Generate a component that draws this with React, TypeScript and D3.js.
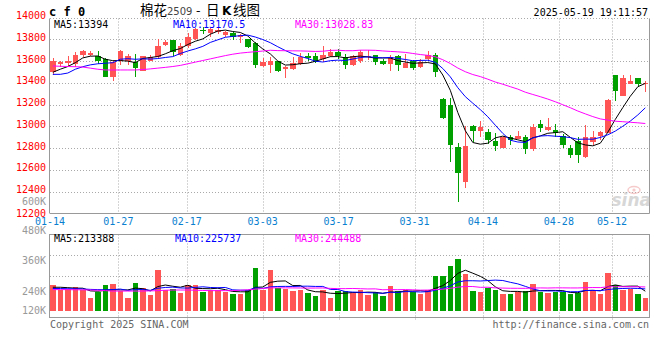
import React from 'react';
import * as d3 from 'd3';

// ---------- data ----------
const dates = [
  '01-14','01-15','01-16','01-17','01-20','01-21','01-22','01-23','01-24','01-27',
  '02-05','02-06','02-07','02-10','02-11','02-12','02-13','02-14','02-17',
  '02-18','02-19','02-20','02-21','02-24','02-25','02-26','02-27','02-28','03-03',
  '03-04','03-05','03-06','03-07','03-10','03-11','03-12','03-13','03-14','03-17',
  '03-18','03-19','03-20','03-21','03-24','03-25','03-26','03-27','03-28','03-31',
  '04-01','04-02','04-03','04-07','04-08','04-09','04-10','04-11','04-14',
  '04-15','04-16','04-17','04-18','04-21','04-22','04-23','04-24','04-25','04-28',
  '04-29','04-30','05-06','05-07','05-08','05-09','05-12',
  '05-13','05-14','05-15','05-16','05-19',
];

const opens = [
  13502,13575,13580,13575,13652,13660,13650,13620,13455,13600,
  13600,13595,13510,13605,13640,13750,13790,13655,13735,13805,
  13888,13855,13870,13840,13860,13825,13800,13763,13555,13565,
  13600,13524,13527,13570,13646,13646,13616,13646,13686,13640,
  13565,13603,13634,13656,13600,13573,13650,13540,13603,13543,
  13616,13655,13252,13197,12814,12492,13004,12960,12951,12866,
  12805,12906,12888,12906,12790,13022,12967,12967,12912,12799,
  12866,12716,12860,12912,12943,13472,13282,13389,13442,13390,
];
const highs = [
  13626,13598,13650,13685,13705,13690,13690,13630,13605,13700,
  13665,13665,13650,13660,13800,13790,13795,13770,13855,13900,
  13915,13905,13905,13880,13870,13850,13805,13778,13630,13640,
  13605,13555,13635,13672,13670,13670,13738,13710,13710,13665,
  13656,13700,13700,13660,13615,13656,13656,13665,13610,13620,
  13690,13678,13265,13265,12850,13004,13013,13050,12980,12943,
  12912,12921,12961,12921,13022,13059,13074,13022,12930,12830,
  12900,13013,12961,12961,13250,13475,13472,13474,13445,13420,
];
const lows = [
  13474,13545,13555,13550,13640,13645,13570,13450,13415,13560,
  13560,13455,13505,13600,13630,13735,13645,13645,13720,13795,
  13850,13825,13845,13820,13790,13765,13720,13533,13545,13493,
  13500,13447,13522,13565,13600,13580,13594,13640,13615,13530,
  13555,13585,13610,13560,13565,13510,13510,13538,13515,13535,
  13610,13456,13068,12676,12308,12437,12860,12905,12840,12777,
  12800,12830,12880,12747,12777,12952,12958,12900,12799,12707,
  12667,12710,12830,12876,12935,13236,13282,13385,13359,13319,
];
const closes = [
  13600,13590,13605,13660,13690,13678,13600,13455,13595,13695,
  13650,13535,13645,13638,13740,13775,13680,13740,13825,13890,
  13882,13895,13885,13870,13825,13838,13733,13564,13594,13600,
  13510,13548,13580,13640,13625,13595,13655,13686,13646,13565,
  13646,13686,13646,13594,13573,13640,13564,13585,13533,13594,
  13655,13502,13075,12830,12575,12820,12960,12998,12875,12820,
  12900,12876,12912,12790,12997,12988,12997,12943,12830,12738,
  12738,12900,12900,12952,13242,13328,13442,13420,13389,13396,
];
const volumes = [
  244000,218000,225000,233000,218000,181000,210000,244000,249000,213000,
  181000,254000,229000,197000,315000,218000,225000,206000,244000,244000,
  210000,221000,218000,210000,202000,202000,221000,323000,218000,312000,
  230000,226000,214000,221000,205000,189000,221000,183000,214000,214000,
  205000,218000,194000,210000,189000,237000,214000,221000,210000,199000,
  221000,284000,284000,331000,367000,296000,214000,210000,230000,221000,
  202000,199000,210000,214000,246000,210000,205000,210000,210000,202000,
  205000,255000,215000,200000,300000,245000,220000,222000,200000,180000,
];

// moving-average values before the window fills
const priceMa5Head = [13497,13525,13550,13585];
const priceMa10Head = [13478,13478,13490,13525,13548,13565,13575,13580,13585];
const priceMa30Head = [
  13555,13552,13550,13548,13545,13535,13525,13518,13518,13518,
  13518,13518,13522,13528,13535,13542,13550,13560,13575,13590,
  13605,13620,13635,13650,13663,13673,13680,13686,13692,
];
const volMa5Head = [232000,232000,230000,228000];
const volMa10Head = [226000,226000,225000,225000,224000,222000,221000,220000,221000];
const volMa30Head = [
  221000,221000,221000,220000,220000,219000,218000,216000,214000,214000,
  214000,214000,214000,215000,216000,218000,219000,219000,219000,218000,
  217000,216000,216000,216000,216000,218000,220000,223000,226000,
];

const tickDates = ['01-14','01-27','02-17','03-03','03-17','03-31','04-14','04-28','05-12'];
const priceTicks = [14000,13800,13600,13400,13200,13000,12800,12600,12400,12200];
const volTickLabels = ['480K','360K','240K','120K'];
const maNames = ['MA5','MA10','MA30'];
const priceMaLast = ['13394','13170.5','13028.83'];
const volMaLast = ['213388','225737','244488'];
const maColors = ['#000000','#0000ff','#ff00ff'];

const RED = '#ff5555';
const GREEN = '#00a000';
const MONO = '"DejaVu Sans Mono", "Liberation Mono", monospace';

function movingAvg(vals: number[], n: number, head: number[]) {
  return vals.map((_, i) => (i < n - 1 ? head[i] : (d3.mean(vals.slice(i - n + 1, i + 1)) as number)));
}

export default function App() {
  const L = 50, R = 650, RB = 649.5;
  const PT = 17.5, PB = 213.5, PFrameTop = 18.5;
  const VT = 234.5, VB = 317.5, VBase = 311;

  const xb = d3.scaleBand<string>().domain(dates).range([L, R]);
  const xp = d3.scalePoint<string>().domain(dates).range([L, R]);
  const py = d3.scaleLinear().domain([12200, 14000]).range([PB, PT]);
  const vy = d3.scaleLinear().domain([120000, 480000]).range([VBase, 234.7]);

  const bw = 5.6;
  const left = (d: string) => Math.round(xb(d) as number);
  const width = (d: string) => Math.round((xb(d) as number) + bw) - left(d);
  const cx = (i: number) => (xb(dates[i]) as number) + bw / 2;

  const pMa = [
    movingAvg(closes, 5, priceMa5Head),
    movingAvg(closes, 10, priceMa10Head),
    movingAvg(closes, 30, priceMa30Head),
  ];
  const vMa = [
    movingAvg(volumes, 5, volMa5Head),
    movingAvg(volumes, 10, volMa10Head),
    movingAvg(volumes, 30, volMa30Head),
  ];
  const pLine = d3.line<number>().x((_, i) => cx(i)).y((v) => py(v));
  const vLine = d3.line<number>().x((_, i) => cx(i)).y((v) => vy(v));

  const gridColor = '#aaaaaa';
  const frameColor = '#999999';
  const hGrid = priceTicks.filter((v) => v < 14000 && v > 12200);
  const volGridFractions = [0.25, 0.5];

  return (
    <svg
      width={660}
      height={360}
      viewBox="0 0 660 360"
      style={{ position: 'fixed', left: 0, top: 0, background: '#fff' }}
    >
      <rect x={0} y={0} width={660} height={360} fill="#fff" />

      {/* header */}
      <text x={49} y={15.5} fontFamily={MONO} fontSize={12} fontWeight="bold" fill="#000">c f 0</text>
      <text y={15} fill="#000">
        <tspan x={140} fontFamily='"Noto Sans CJK SC"' fontSize={13.5}>棉花</tspan>
        <tspan x={167} fontFamily='"DejaVu Sans"' fontSize={10} fill="#444">2509</tspan>
        <tspan x={196} fontFamily='"Noto Sans CJK SC"' fontSize={13}>-</tspan>
        <tspan x={206} fontFamily='"Noto Sans CJK SC"' fontSize={13.5}>日</tspan>
        <tspan x={222} fontFamily='"DejaVu Sans"' fontSize={12} fontWeight="bold">K</tspan>
        <tspan x={233} fontFamily='"Noto Sans CJK SC"' fontSize={13.5}>线图</tspan>
      </text>
      <text x={648} y={15.5} textAnchor="end" fontFamily={MONO} fontSize={10} fill="#000">2025-05-19 19:11:57</text>

      {/* price grid */}
      {hGrid.map((v) => (
        <line key={'hg' + v} x1={L} x2={RB} y1={Math.round(py(v)) + 0.5} y2={Math.round(py(v)) + 0.5}
          stroke={gridColor} strokeDasharray="1,2" />
      ))}
      {tickDates.slice(1).map((d) => (
        <line key={'vg' + d} x1={Math.round(xp(d) as number) + 0.5} x2={Math.round(xp(d) as number) + 0.5}
          y1={PFrameTop} y2={PB} stroke={gridColor} strokeDasharray="1,2" />
      ))}
      <line x1={L} x2={RB} y1={PFrameTop} y2={PFrameTop} stroke={gridColor} strokeDasharray="1,2" />
      <line x1={L} x2={RB} y1={PB} y2={PB} stroke={frameColor} />
      <line x1={L - 0.5} x2={L - 0.5} y1={PFrameTop} y2={PB} stroke={frameColor} />
      <line x1={RB} x2={RB} y1={PFrameTop} y2={PB} stroke={frameColor} />

      {/* watermark */}
      <g opacity={0.55}>
        <ellipse cx={634} cy={190} rx={6} ry={3.5} fill="none" stroke="#f0a0a0" strokeWidth={1.5} />
        <circle cx={634} cy={190} r={1.6} fill="#f0a0a0" />
        <text x={651} y={206} textAnchor="end" fontFamily='"DejaVu Sans"' fontStyle="italic" fontWeight="bold"
          fontSize={17} fill="#b8b8b8">sina</text>
      </g>

      {/* price axis labels */}
      {priceTicks.map((v) => (
        <text key={'pt' + v} x={46} y={py(v) + (v === 12200 ? 3 : 1.5)} textAnchor="end" fontFamily={MONO}
          fontSize={10} fill="#ff0000">{v}</text>
      ))}
      <text x={46} y={204.5} textAnchor="end" fontFamily={MONO} fontSize={10} fill="#999">600K</text>

      {/* candles */}
      {dates.map((d, i) => {
        const o = opens[i], c = closes[i];
        const up = c >= o;
        const col = up ? RED : GREEN;
        const x0 = left(d), w = width(d);
        const yTop = Math.round(py(Math.max(o, c)));
        const yBot = Math.round(py(Math.min(o, c)));
        const wx = x0 + Math.floor(w / 2) + 0.5;
        return (
          <g key={'c' + d}>
            <line x1={wx} x2={wx} y1={Math.round(py(highs[i]))} y2={Math.round(py(lows[i]))} stroke={col} />
            <rect x={x0} y={yTop} width={w} height={Math.max(1, yBot - yTop)} fill={col} />
          </g>
        );
      })}

      {/* price MA lines */}
      {pMa.map((arr, k) => (
        <path key={'pm' + k} d={pLine(arr) as string} fill="none" stroke={maColors[k]} strokeWidth={1} />
      ))}

      {/* price legend */}
      {maNames.map((n, k) => (
        <text key={'pl' + n} x={[54, 173, 295][k]} y={27.5} fontFamily={MONO} fontSize={10} fill={maColors[k]}>
          {n + ':' + priceMaLast[k]}
        </text>
      ))}

      {/* date labels */}
      {tickDates.map((d) => (
        <text key={'dl' + d} x={xp(d) as number} y={225} textAnchor="middle" fontFamily={MONO} fontSize={10}
          fill="#0a7fd0">{d}</text>
      ))}

      {/* volume grid + frame */}
      {volGridFractions.map((f) => (
        <line key={'vh' + f} x1={L} x2={RB} y1={Math.round(VT + (VB - VT) * f) + 0.5}
          y2={Math.round(VT + (VB - VT) * f) + 0.5} stroke={gridColor} strokeDasharray="1,2" />
      ))}
      {tickDates.slice(1).map((d) => (
        <line key={'vvg' + d} x1={Math.round(xp(d) as number) + 0.5} x2={Math.round(xp(d) as number) + 0.5}
          y1={VT} y2={VB + 4} stroke={gridColor} strokeDasharray="1,2" />
      ))}
      <rect x={L - 0.5} y={VT} width={RB - L + 0.5} height={VB - VT} fill="none" stroke={frameColor} />

      {/* volume axis labels */}
      {volTickLabels.map((t, k) => (
        <text key={'vt' + t} x={46} y={Math.min(230.7 + 30.2 * k, 310.7) + 3.5} textAnchor="end"
          fontFamily={MONO} fontSize={10} fill="#999">{t}</text>
      ))}

      {/* volume bars */}
      {dates.map((d, i) => {
        const up = closes[i] >= opens[i];
        const y = Math.round(vy(volumes[i]));
        return (
          <rect key={'v' + d} x={left(d)} y={y} width={width(d)} height={VBase - y} fill={up ? RED : GREEN} />
        );
      })}

      {/* volume MA lines */}
      {vMa.map((arr, k) => (
        <path key={'vm' + k} d={vLine(arr) as string} fill="none" stroke={maColors[k]} strokeWidth={1} />
      ))}

      {/* volume legend */}
      {maNames.map((n, k) => (
        <text key={'vl' + n} x={[54, 175, 295][k]} y={241.5} fontFamily={MONO} fontSize={10} fill={maColors[k]}>
          {n + ':' + volMaLast[k]}
        </text>
      ))}

      {/* footer */}
      <text x={50} y={328} fontFamily={MONO} fontSize={10} fill="#666">Copyright 2025 SINA.COM</text>
      <text x={649} y={328} textAnchor="end" fontFamily={MONO} fontSize={10} fill="#666">http://finance.sina.com.cn</text>
    </svg>
  );
}
